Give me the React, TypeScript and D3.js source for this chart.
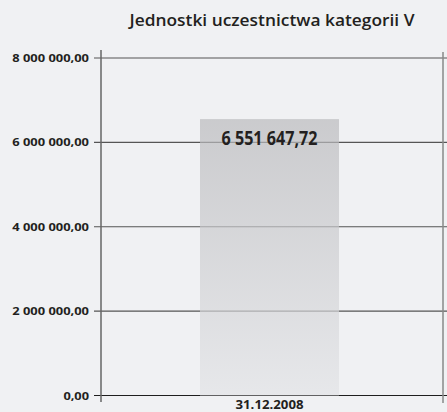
import { useEffect, useRef } from "react";
import * as d3 from "d3";

const title = "Jednostki uczestnictwa kategorii V";
const categories = ["31.12.2008"];
const values = [6551647.72];
const valueLabels = ["6 551 647,72"];
const yTicks = [0, 2000000, 4000000, 6000000, 8000000];
const yTickLabels = ["0,00", "2 000 000,00", "4 000 000,00", "6 000 000,00", "8 000 000,00"];

const W = 447;
const H = 412;
const font = "'Open Sans', Lato, sans-serif";

const App = () => {
  const ref = useRef<SVGSVGElement>(null);

  useEffect(() => {
    const svg = d3.select(ref.current);
    svg.selectAll("*").remove();

    const left = 101;
    const right = 443;

    const y = d3.scaleLinear().domain([0, 8000000]).range([395.5, 58]);
    const x = d3
      .scaleBand()
      .domain(categories)
      .range([left, 438])
      .paddingInner(0.416)
      .paddingOuter(0.416);

    svg.append("rect").attr("width", W).attr("height", H).attr("fill", "#f0f1f3");

    const defs = svg.append("defs");
    const grad = defs
      .append("linearGradient")
      .attr("id", "barGrad")
      .attr("x1", 0)
      .attr("y1", 0)
      .attr("x2", 0)
      .attr("y2", 1);
    grad.append("stop").attr("offset", "0%").attr("stop-color", "#b9b9bc");
    grad.append("stop").attr("offset", "100%").attr("stop-color", "#e2e3e6");

    // gridlines
    svg
      .append("g")
      .selectAll("line")
      .data(yTicks)
      .join("line")
      .attr("x1", left - 7)
      .attr("x2", W)
      .attr("y1", (d) => y(d))
      .attr("y2", (d) => y(d))
      .attr("stroke", (d) => (d === 0 ? "#1e1e1e" : "#555"))
      .attr("stroke-width", 1.2);

    // bar
    svg
      .append("g")
      .selectAll("rect")
      .data(values)
      .join("rect")
      .attr("x", (_, i) => x(categories[i])!)
      .attr("width", x.bandwidth())
      .attr("y", (d) => y(d))
      .attr("height", (d) => y(0) - y(d))
      .attr("fill", "url(#barGrad)")
      .attr("opacity", 0.68);

    // axes lines
    svg
      .append("line")
      .attr("x1", left)
      .attr("x2", left)
      .attr("y1", 50)
      .attr("y2", 402)
      .attr("stroke", "#666")
      .attr("stroke-width", 1.5);
    svg
      .append("line")
      .attr("x1", right)
      .attr("x2", right)
      .attr("y1", 52)
      .attr("y2", 403)
      .attr("stroke", "#888")
      .attr("stroke-width", 1.5);

    // y tick labels (width scaled to ~6.4px per character, like the condensed original)
    svg
      .append("g")
      .selectAll("text")
      .data(yTicks)
      .join("text")
      .attr("x", 89)
      .attr("y", (d) => y(d) + 4)
      .attr("text-anchor", "end")
      .attr("font-family", font)
      .attr("font-weight", "bold")
      .attr("font-size", 11)
      .attr("fill", "#231f20")
      .attr("textLength", (_, i) => yTickLabels[i].length * 6.4)
      .attr("lengthAdjust", "spacingAndGlyphs")
      .text((_, i) => yTickLabels[i]);

    // value labels
    svg
      .append("g")
      .selectAll("text")
      .data(values)
      .join("text")
      .attr("x", (_, i) => x(categories[i])! + x.bandwidth() / 2)
      .attr("y", (d) => y(d) + 26)
      .attr("text-anchor", "middle")
      .attr("font-family", font)
      .attr("font-weight", "bold")
      .attr("font-size", 20)
      .attr("fill", "#231f20")
      .attr("textLength", 96)
      .attr("lengthAdjust", "spacingAndGlyphs")
      .text((_, i) => valueLabels[i]);

    // category labels
    svg
      .append("g")
      .selectAll("text")
      .data(categories)
      .join("text")
      .attr("x", (d) => x(d)! + x.bandwidth() / 2)
      .attr("y", 409)
      .attr("text-anchor", "middle")
      .attr("font-family", font)
      .attr("font-weight", "bold")
      .attr("font-size", 12)
      .attr("fill", "#231f20")
      .attr("textLength", 68)
      .attr("lengthAdjust", "spacingAndGlyphs")
      .text((d) => d);

    // title
    svg
      .append("text")
      .attr("x", 272)
      .attr("y", 26)
      .attr("text-anchor", "middle")
      .attr("font-family", font)
      .attr("font-weight", 600)
      .attr("font-size", 16)
      .attr("fill", "#231f20")
      .attr("textLength", 285)
      .attr("lengthAdjust", "spacingAndGlyphs")
      .text(title);
  }, []);

  return (
    <div style={{ position: "absolute", left: 0, top: 0 }}>
      <svg ref={ref} width={W} height={H} style={{ display: "block" }} />
    </div>
  );
};

export default App;
